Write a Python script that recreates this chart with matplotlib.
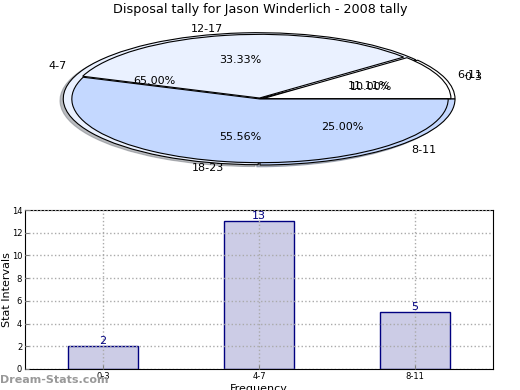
import matplotlib
matplotlib.use('Agg')
import matplotlib.pyplot as plt

# data
title = 'Disposal tally for Jason Winderlich - 2008 tally'
pie1_labels = ['0-3', '4-7', '8-11']
pie1_values = [2, 13, 5]
pie2_labels = ['6-11', '12-17', '18-23']
pie2_values = [1, 3, 5]
bar_labels = ['0-3', '4-7', '8-11']
bar_values = [2, 13, 5]

W, H = 520, 390
fig = plt.figure(figsize=(W / 100, H / 100), dpi=100)

fig.text(0.5, 1 - 10 / H, title, ha='center', va='center', fontsize=9.2)

# pie axes -- squashed so the pie comes out as an ellipse
cx, cy, rx, ry = 260, 99, 195, 66
ax1 = fig.add_axes([(cx - 1.25 * rx) / W, (H - cy - 1.25 * ry) / H,
                    2.5 * rx / W, 2.5 * ry / H])
colors = ['white', '#eaf1ff', '#c4d8ff']
wp = dict(edgecolor='black', linewidth=0.8)
ax1.pie(pie1_values, labels=pie1_labels, colors=colors, autopct='%.2f%%',
        explode=[0.0, 0.01, 0.0],
        shadow={'ox': -0.012, 'oy': -0.02, 'shade': 0.5}, wedgeprops=wp,
        textprops=dict(fontsize=8))
ax1.pie(pie2_values, labels=pie2_labels, colors=colors, autopct='%.2f%%',
        explode=[0.015, 0.015, 0.0], radius=0.965, wedgeprops=wp,
        textprops=dict(fontsize=8))
ax1.set_aspect('auto')
ax1.set_xlim(-1.25, 1.25)
ax1.set_ylim(-1.25, 1.25)
ax1.axis('off')

# bar chart
ax2 = fig.add_axes([25 / W, 21 / H, 468 / W, 159 / H])
x = list(range(len(bar_values)))
ax2.bar(x, bar_values, width=0.45, color='#ccccе6'.replace('е', 'e'),
        edgecolor='navy', linewidth=1)
for xi, v in zip(x, bar_values):
    ax2.text(xi, v, str(v), ha='center', va='bottom', color='navy', fontsize=8)
ax2.set_xlim(-0.5, 2.5)
ax2.set_ylim(0, 14)
ax2.set_yticks(range(0, 15, 2))
ax2.set_xticks(x)
ax2.set_xticklabels(bar_labels)
ax2.tick_params(direction='in', labelsize=6, color='grey', length=3, pad=2)
ax2.grid(True, linestyle=':', color='#aaaaaa', linewidth=1)
ax2.set_axisbelow(False)
ax2.set_ylabel('Stat Intervals', fontsize=8, labelpad=0)
ax2.set_xlabel('Frequency', fontsize=8, labelpad=2)

fig.text(0, 1 - 380 / H, 'Dream-Stats.com', ha='left', va='center',
         fontsize=8, color='#999999', fontweight='bold')

fig.savefig('out.png', dpi=100)
